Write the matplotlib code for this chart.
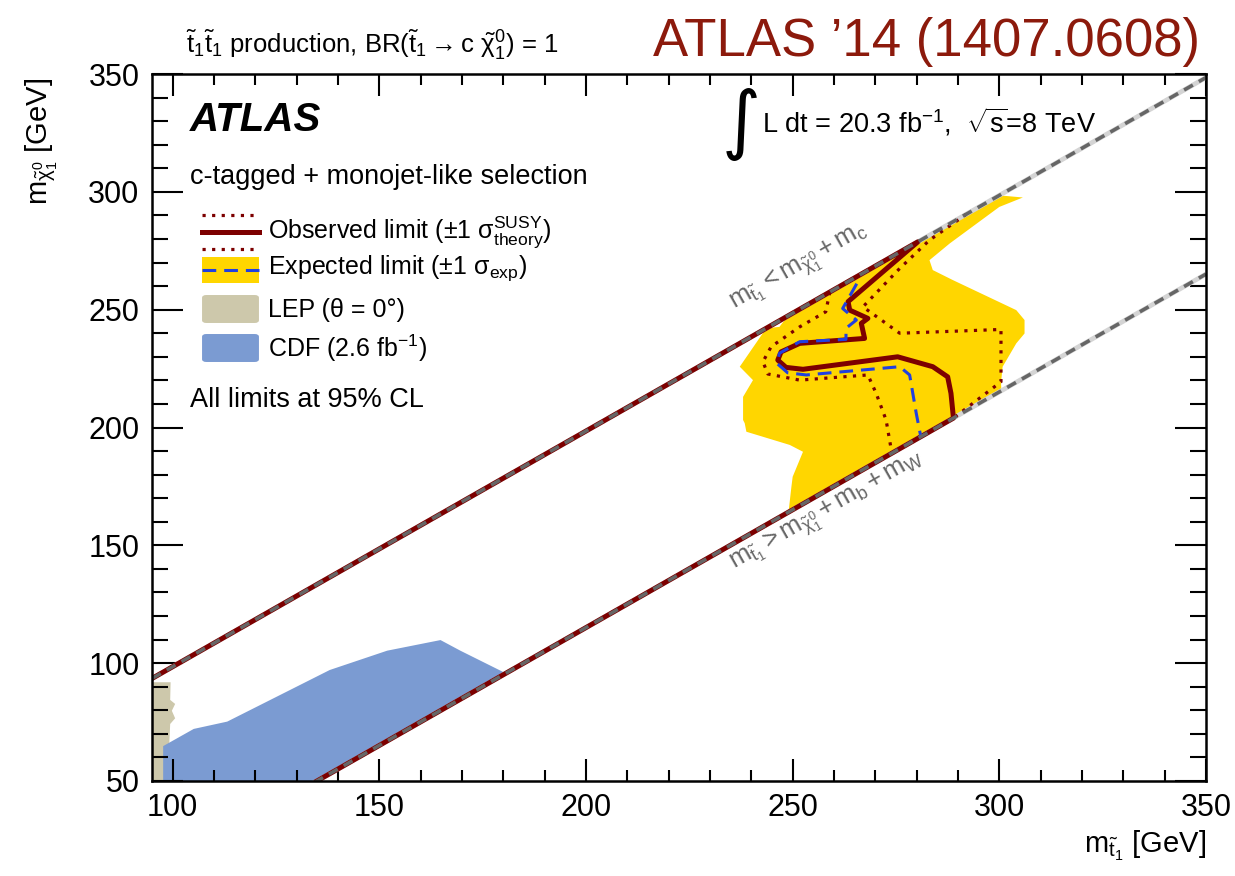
import numpy as np
import matplotlib
matplotlib.use("Agg")
import matplotlib.pyplot as plt
from matplotlib.patches import Polygon, FancyBboxPatch, Rectangle
from matplotlib.lines import Line2D

plt.rcParams['font.family'] = ['Liberation Sans', 'DejaVu Sans']
plt.rcParams['mathtext.fontset'] = 'custom'
plt.rcParams['mathtext.rm'] = 'Liberation Sans'
plt.rcParams['mathtext.it'] = 'Liberation Sans:italic'
plt.rcParams['mathtext.bf'] = 'Liberation Sans:bold'
plt.rcParams['mathtext.sf'] = 'Liberation Sans'

# ---------------- data (GeV) ----------------
M_C = 1.5          # charm mass: m_chi = m_stop - m_c
M_B_PLUS_W = 84.9  # b + W masses: m_chi = m_stop - m_b - m_W

# observed limit (solid), including the parts along the kinematic boundaries
obs_x = [95.0, 280.3, 263.4, 263.8, 268.2, 266.6, 267.4, 251.7, 247.2, 246.4,
         248.4, 252.5, 275.4, 283.9, 287.5, 288.3, 288.9, 134.9]
obs_y = [93.5, 278.8, 253.4, 249.8, 246.3, 244.2, 237.8, 235.7, 232.1, 228.6,
         225.5, 224.7, 230.0, 225.8, 221.5, 214.5, 204.0, 50.0]

# observed +1 sigma theory (outer dotted)
obs_up_x = [292.0, 283.1, 275.9, 267.0, 275.9, 300.4, 300.4, 289.0]
obs_up_y = [290.5, 279.5, 267.5, 251.2, 240.0, 241.6, 219.4, 204.1]

# observed -1 sigma theory (inner dotted)
obs_dn_x = [259.0, 258.0, 251.7, 244.8, 242.8, 244.0, 251.7, 268.2, 270.2, 272.6, 274.0]
obs_dn_y = [257.5, 249.1, 242.7, 234.3, 227.9, 222.7, 220.1, 222.3, 214.5, 203.2, 189.1]

# expected limit (dashed)
exp_x = [265.5, 262.1, 265.4, 262.9, 262.9, 251.7, 246.8, 246.2, 248.8, 253.3,
         275.9, 278.3, 279.9, 281.0]
exp_y = [261.0, 250.5, 245.6, 242.1, 237.4, 236.4, 231.5, 227.2, 223.2, 222.3,
         225.8, 222.3, 206.0, 196.1]

# expected +-1 sigma band
band_x = [248.8, 300.0, 305.7, 300.0, 288.0, 283.1, 283.9, 288.7, 304.1, 306.1,
          306.1, 304.1, 300.8, 300.4, 300.5, 249.0, 249.7, 250.0, 252.5, 249.3,
          238.8, 238.4, 238.0, 238.0, 240.4, 237.2, 243.6, 246.8]
band_y = [247.3, 298.5, 297.6, 293.6, 278.1, 271.0, 266.8, 262.6, 249.8, 245.6,
          239.9, 235.7, 225.8, 219.0, 215.6, 164.1, 174.9, 179.1, 189.7, 192.6,
          198.2, 201.8, 203.2, 213.0, 220.1, 225.8, 242.1, 242.7]

# LEP exclusion
lep_x = [95.0, 95.0, 99.5, 99.4, 100.6, 99.8, 100.6, 99.4, 99.0, 98.5]
lep_y = [50.0, 91.9, 91.9, 84.4, 82.7, 79.8, 76.6, 74.2, 58.9, 50.0]

# CDF exclusion
cdf_x = [97.7, 97.7, 105.1, 113.2, 138.0, 151.9, 164.8, 169.6, 180.6, 134.9]
cdf_y = [50.0, 64.8, 72.1, 75.2, 97.1, 105.3, 109.8, 105.3, 95.7, 50.0]

x_range = (95, 350)
y_range = (50, 350)

# ---------------- colours ----------------
C_OBS = '#7d0000'
C_EXP = '#2040e0'
C_BAND = '#ffd600'
C_LEP = '#cdc8ab'
C_CDF = '#7b9bd2'
C_KIN = '#666666'
C_KIN_BASE = '#d4d4d4'
C_TITLE = '#8c1a0c'

W, H = 1235, 876
fig = plt.figure(figsize=(W / 100, H / 100), dpi=100)
L, R, T, B = 152, 1206, 74, 781
ax = fig.add_axes([L / W, 1 - B / H, (R - L) / W, (B - T) / H])
ax.set_xlim(*x_range)
ax.set_ylim(*y_range)


def axfrac(px, py):
    return (px - L) / (R - L), (B - py) / (B - T)


# filled regions
ax.add_patch(Polygon(np.column_stack([band_x, band_y]), closed=True,
                     facecolor=C_BAND, edgecolor='none', zorder=1))
ax.add_patch(Polygon(np.column_stack([lep_x, lep_y]), closed=True,
                     facecolor=C_LEP, edgecolor='none', zorder=1))
ax.add_patch(Polygon(np.column_stack([cdf_x, cdf_y]), closed=True,
                     facecolor=C_CDF, edgecolor='none', zorder=1.1))

# kinematic boundaries
xk = np.array([x_range[0], x_range[1]])
for off in (M_C, M_B_PLUS_W):
    ax.plot(xk, xk - off, color=C_KIN_BASE, lw=3.4, zorder=2,
            solid_capstyle='butt')

# limit contours
ax.plot(obs_x, obs_y, color=C_OBS, lw=3.6, zorder=3, solid_joinstyle='round')
ax.plot(obs_up_x, obs_up_y, color=C_OBS, lw=2.3, ls=(0, (1, 2)), zorder=3)
ax.plot(obs_dn_x, obs_dn_y, color=C_OBS, lw=2.3, ls=(0, (1, 2)), zorder=3)
ax.plot(exp_x, exp_y, color=C_EXP, lw=2.2, ls=(0, (4.5, 2.6)), zorder=3)

for off in (M_C, M_B_PLUS_W):
    ax.plot(xk, xk - off, color=C_KIN, lw=2.6, ls=(0, (2.8, 1.9)), zorder=4)

# kinematic labels, rotated along the boundary lines
p0 = ax.transData.transform((150, 150))
p1 = ax.transData.transform((250, 250))
ang = np.degrees(np.arctan2(p1[1] - p0[1], p1[0] - p0[0]))
ax.text(251.7, 267.6,
        r"$\mathrm{m}_{\tilde{\mathrm{t}}_1} < \mathrm{m}_{\tilde{\mathrm{\chi}}^0_1} + \mathrm{m}_\mathrm{c}$",
        rotation=ang, rotation_mode='anchor', ha='center', va='center',
        fontsize=18.5, color=C_KIN, zorder=5)
ax.text(258.4, 164.1,
        r"$\mathrm{m}_{\tilde{\mathrm{t}}_1} > \mathrm{m}_{\tilde{\mathrm{\chi}}^0_1} + \mathrm{m}_\mathrm{b} + \mathrm{m}_\mathrm{W}$",
        rotation=ang, rotation_mode='anchor', ha='center', va='center',
        fontsize=18.5, color=C_KIN, zorder=5)

# axes styling
ax.set_xticks(np.arange(100, 351, 50))
ax.set_xticks(np.arange(100, 351, 10), minor=True)
ax.set_yticks(np.arange(50, 351, 50))
ax.set_yticks(np.arange(50, 351, 10), minor=True)
ax.tick_params(axis='x', which='major', direction='in', length=16, width=1.5,
               top=True, labelsize=22, pad=9)
ax.tick_params(axis='x', which='minor', direction='in', length=8, width=1.5, top=True)
ax.tick_params(axis='y', which='major', direction='in', length=22, width=1.5,
               right=True, labelsize=22, pad=9)
ax.tick_params(axis='y', which='minor', direction='in', length=11.5, width=1.5, right=True)
for s in ax.spines.values():
    s.set_linewidth(1.8)
    s.set_zorder(6)

# axis titles
fig.text(1206 / W, 1 - 846 / H, r"$\mathrm{m}_{\tilde{\mathrm{t}}_1}$ [GeV]",
         ha='right', va='center', fontsize=21)
fig.text(42 / W, 1 - 78 / H, r"$\mathrm{m}_{\tilde{\mathrm{\chi}}^0_1}$ [GeV]",
         ha='center', va='top', rotation=90, fontsize=21)

# header texts
fig.text(1200 / W, 1 - 42 / H, "ATLAS \u201914 (1407.0608)", ha='right',
         va='center', fontsize=38, color=C_TITLE)
fig.text(186 / W, 1 - 45 / H,
         r"$\tilde{\mathrm{t}}_1\tilde{\mathrm{t}}_1$ production, BR($\tilde{\mathrm{t}}_1 \rightarrow \mathrm{c}\ \tilde{\mathrm{\chi}}^0_1$) = 1",
         ha='left', va='center', fontsize=18.5)

# annotations inside the frame
tx, ty = axfrac(190, 120)
ax.text(tx, ty, "ATLAS", transform=ax.transAxes, ha='left', va='center',
        fontsize=29, fontweight='bold', fontstyle='italic', zorder=7)
tx, ty = axfrac(190, 177)
ax.text(tx, ty, "c-tagged + monojet-like selection", transform=ax.transAxes,
        ha='left', va='center', fontsize=19.5, zorder=7)
tx, ty = axfrac(190, 400)
ax.text(tx, ty, "All limits at 95% CL", transform=ax.transAxes,
        ha='left', va='center', fontsize=19.5, zorder=7)
tx, ty = axfrac(722, 124)
ax.text(tx, ty, "\u222b", transform=ax.transAxes, ha='left', va='center',
        fontsize=54, family='DejaVu Sans', zorder=7)
tx, ty = axfrac(762, 122)
ax.text(tx, ty, r"L dt = 20.3 fb$^{\mathrm{-1}}$,  $\sqrt{\mathrm{s}}$=8 TeV",
        transform=ax.transAxes, ha='left', va='center', fontsize=19.5, zorder=7)

# legend
x0, x1 = 202, 259
text_x = 268


def seg(py, **kw):
    a = axfrac(x0, py)
    b = axfrac(x1, py)
    ax.add_line(Line2D([a[0], b[0]], [a[1], b[1]], transform=ax.transAxes,
                       clip_on=False, zorder=7, **kw))


def box(py_top, py_bot, color, rounded):
    a = axfrac(x0, py_bot)
    b = axfrac(x1, py_top)
    if rounded:
        pad = 3
        a2 = axfrac(x0 + pad, py_bot - pad)
        b2 = axfrac(x1 - pad, py_top + pad)
        p = FancyBboxPatch((a2[0], a2[1]), b2[0] - a2[0], b2[1] - a2[1],
                           boxstyle="round,pad=0.0028,rounding_size=0.004",
                           transform=ax.transAxes, facecolor=color,
                           edgecolor='none', zorder=7, clip_on=False)
    else:
        p = Rectangle((a[0], a[1]), b[0] - a[0], b[1] - a[1],
                      transform=ax.transAxes, facecolor=color,
                      edgecolor='none', zorder=7, clip_on=False)
    ax.add_patch(p)


seg(215, color=C_OBS, lw=2.3, ls=(0, (1, 2)))
seg(232, color=C_OBS, lw=3.6)
seg(249, color=C_OBS, lw=2.3, ls=(0, (1, 2)))
box(257, 283, C_BAND, False)
seg(270, color=C_EXP, lw=2.2, ls=(0, (4.5, 2.6)))
box(294, 324, C_LEP, True)
box(333, 363, C_CDF, True)

leg_texts = [
    (232, r"Observed limit ($\pm$1 $\mathrm{\sigma}^{\mathrm{SUSY}}_{\mathrm{theory}}$)"),
    (268, r"Expected limit ($\pm$1 $\mathrm{\sigma}_{\mathrm{exp}}$)"),
    (310, "LEP (\u03b8 = 0\u00b0)"),
    (348, r"CDF (2.6 fb$^{\mathrm{-1}}$)"),
]
for py, s in leg_texts:
    tx, ty = axfrac(text_x, py)
    ax.text(tx, ty, s, transform=ax.transAxes, ha='left', va='center',
            fontsize=18, zorder=7)

fig.savefig("out.png", dpi=100)
